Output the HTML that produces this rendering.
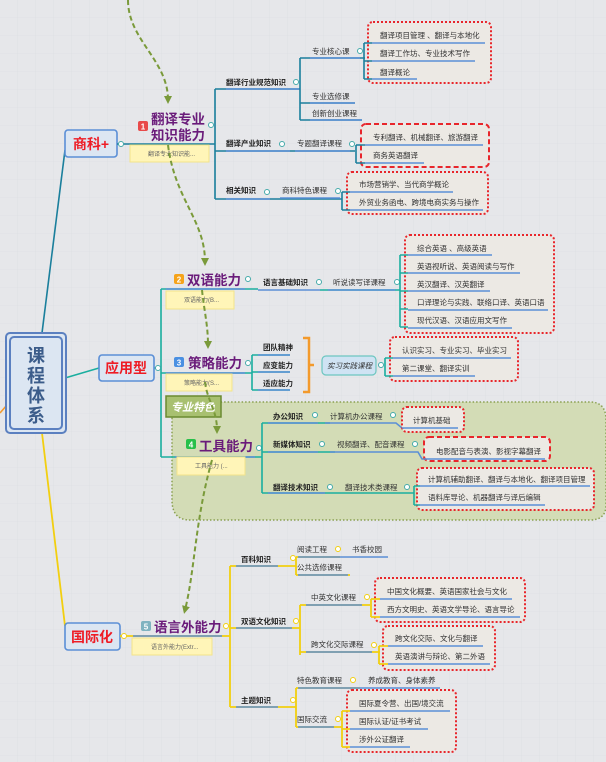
<!DOCTYPE html>
<html><head><meta charset="utf-8"><style>
html,body{margin:0;padding:0;background:#e6e7ea;}
svg{display:block}
text{font-family:"Liberation Sans","Noto Sans CJK SC",sans-serif;}
.l{font-size:7.5px;fill:#333}
.b{font-size:7.5px;fill:#222;font-weight:bold}
.t{font-size:13.5px;fill:#6a1b7a;font-weight:bold}
.n{font-size:6px;fill:#666}
.u{stroke:#5b8fd6;stroke-width:1.6;fill:none}
.c1{stroke:#1a7f9c;stroke-width:1.6;fill:none}
.c2{stroke:#1aae9f;stroke-width:1.6;fill:none}
.c3{stroke:#f2cf10;stroke-width:1.8;fill:none}
.rd{fill:#ece9e4;stroke:#e8262b;stroke-width:2;stroke-dasharray:2 2}
.rdd{fill:#ece9e4;stroke:#e8262b;stroke-width:2;stroke-dasharray:5 3}
.note{fill:#fff5b8;stroke:#f3e48a;stroke-width:1}
.ar{stroke:#7a9a3a;stroke-width:2;fill:none;stroke-dasharray:5 3}
.cc{fill:#fff;stroke:#4aa;stroke-width:1}
</style></head><body>
<svg width="606" height="762" viewBox="0 0 606 762" xmlns="http://www.w3.org/2000/svg">
<defs>
<pattern id="g" width="18" height="18" patternUnits="userSpaceOnUse"><path d="M18 0V18H0" fill="none" stroke="#dadcdf" stroke-width="0.6"/></pattern>
<marker id="ah" markerWidth="8" markerHeight="8" refX="4" refY="4" orient="auto" markerUnits="userSpaceOnUse"><path d="M0,0 L8,4 L0,8z" fill="#7a9a3a"/></marker>
</defs>
<rect width="606" height="762" fill="#e6e7ea"/>
<rect width="606" height="762" fill="url(#g)"/>

<path d="M190,402 Q200,396 215,402 L590,402 Q606,402 606,420 L606,505 Q606,520 590,520 L190,520 Q172,520 172,500 L172,420 Q172,402 190,402z" fill="#d3dcb6" stroke="#8aa050" stroke-width="1.5" stroke-dasharray="1.5 2"/>

<path d="M42,333 L65,150" class="c1"/>
<path d="M65,378 L99,368" class="c2"/>
<path d="M42,433 L65,626" class="c3"/>
<path d="M0,413 L7,405" stroke="#f39a2c" stroke-width="1.6"/>

<rect x="6" y="333" width="60" height="100" rx="4" fill="#dce6f2" stroke="#5b80c0" stroke-width="2"/>
<rect x="10" y="337" width="52" height="92" rx="4" fill="#dce6f2" stroke="#5b80c0" stroke-width="2"/>
<text x="36" y="362" text-anchor="middle" style="font-size:18px;font-weight:bold;fill:#3b5c8a">课</text>
<text x="36" y="382" text-anchor="middle" style="font-size:18px;font-weight:bold;fill:#3b5c8a">程</text>
<text x="36" y="402" text-anchor="middle" style="font-size:18px;font-weight:bold;fill:#3b5c8a">体</text>
<text x="36" y="422" text-anchor="middle" style="font-size:18px;font-weight:bold;fill:#3b5c8a">系</text>

<rect x="65" y="130" width="52" height="27" rx="3" fill="#dce6f2" stroke="#5b8fd6" stroke-width="1.6"/>
<text x="91" y="149" text-anchor="middle" style="font-size:14px;font-weight:bold;fill:#ee1c25">商科+</text>
<path d="M117,144 L215,144" class="c1"/>
<path d="M215,89 L215,199 M215,89 L300,89 M215,151 L355,151 M215,199 L342,199" class="c1"/>
<circle cx="121" cy="144" r="2.5" class="cc"/><circle cx="211" cy="125" r="2.5" class="cc"/>
<rect x="138" y="121" width="10" height="10" rx="2" fill="#e84a4a"/><text x="143" y="129.5" text-anchor="middle" style="font-size:8px;fill:#fff;font-weight:bold">1</text>
<text x="151" y="124" class="t">翻译专业</text><text x="151" y="140" class="t">知识能力</text>
<rect x="130" y="145" width="79" height="17" class="note"/><text x="148" y="156" class="n">翻译专业知识能...</text>
<path d="M226,89 L300,89 M226,151 L290,151 M226,199 L270,199" class="u"/>
<text x="226" y="85" class="b">翻译行业规范知识</text>
<text x="226" y="146" class="b">翻译产业知识</text>
<text x="226" y="193" class="b">相关知识</text>
<circle cx="296" cy="82" r="2.5" class="cc"/><circle cx="282" cy="144" r="2.5" class="cc"/><circle cx="267" cy="192" r="2.5" class="cc"/>
<path d="M300,58 L300,120 M300,58 L365,58 M300,103 L355,103 M300,120 L362,120" class="c1"/>
<path d="M310,58 L360,58 M310,103 L355,103 M310,120 L362,120" class="u"/>
<text x="312" y="54" class="l">专业核心课</text><text x="312" y="99" class="l">专业选修课</text><text x="312" y="116" class="l">创新创业课程</text>
<circle cx="360" cy="51" r="2.5" class="cc"/>
<rect x="368" y="22" width="123" height="61" rx="5" class="rd"/>
<path d="M364,43 L364,79 M364,43 L372,43 M364,61 L372,61 M364,79 L372,79" class="c1"/>
<path d="M372,43 L485,43 M372,61 L475,61 M372,79 L417,79" class="u"/>
<text x="380" y="38" class="l">翻译项目管理 、翻译与本地化</text>
<text x="380" y="56" class="l">翻译工作坊、专业技术写作</text>
<text x="380" y="75" class="l">翻译概论</text>
<text x="297" y="146" class="l">专题翻译课程</text><path d="M295,151 L350,151" class="u"/>
<circle cx="352" cy="144" r="2.5" class="cc"/>
<rect x="361" y="124" width="128" height="43" rx="5" class="rdd"/>
<path d="M356,145 L356,163 M356,145 L365,145 M356,163 L365,163" class="c1"/>
<path d="M365,145 L483,145 M365,163 L424,163" class="u"/>
<text x="373" y="140" class="l">专利翻译、机械翻译、旅游翻译</text>
<text x="373" y="158" class="l">商务英语翻译</text>
<text x="282" y="193" class="l">商科特色课程</text><path d="M280,198 L340,198" class="u"/>
<circle cx="338" cy="191" r="2.5" class="cc"/>
<rect x="347" y="172" width="141" height="42" rx="5" class="rd"/>
<path d="M342,192 L342,210 M342,192 L350,192 M342,210 L350,210" class="c1"/>
<path d="M350,192 L453,192 M350,210 L483,210" class="u"/>
<text x="359" y="187" class="l">市场营销学、当代商学概论</text>
<text x="359" y="205" class="l">外贸业务函电、跨境电商实务与操作</text>

<path d="M154,368 L161,368 M161,289 L161,457 M161,289 L258,289 M161,373 L252,373 M161,457 L262,457" class="c2"/>
<rect x="99" y="355" width="55" height="26" rx="3" fill="#dce6f2" stroke="#5b8fd6" stroke-width="1.6"/>
<text x="126" y="373" text-anchor="middle" style="font-size:14px;font-weight:bold;fill:#ee1c25">应用型</text>
<circle cx="158" cy="368" r="2.5" class="cc"/>
<path d="M166,289 L245,289 M166,373 L245,373 M175,457 L255,457" class="u"/>
<rect x="174" y="274" width="10" height="10" rx="2" fill="#f5a31a"/><text x="179" y="282.5" text-anchor="middle" style="font-size:8px;fill:#fff;font-weight:bold">2</text>
<text x="187" y="285" class="t">双语能力</text>
<rect x="166" y="291" width="68" height="18" class="note"/><text x="184" y="302" class="n">双语能力(B...</text>
<circle cx="248" cy="279" r="2.5" class="cc"/>
<text x="263" y="285" class="b">语言基础知识</text><path d="M258,290 L320,290" class="u"/>
<circle cx="319" cy="282" r="2.5" class="cc"/>
<text x="333" y="285" class="l">听说读写译课程</text><path d="M320,290 L400,290" class="c2"/><path d="M328,290 L395,290" class="u"/>
<circle cx="397" cy="282" r="2.5" class="cc"/>
<rect x="405" y="235" width="149" height="98" rx="5" class="rd"/>
<path d="M400,255 L400,327 M400,255 L408,255 M400,273 L408,273 M400,291 L408,291 M400,309 L408,309 M400,327 L408,327" class="c2"/>
<path d="M408,255 L492,255 M408,273 L520,273 M408,291 L490,291 M408,310 L548,310 M408,328 L512,328" class="u"/>
<text x="417" y="251" class="l">综合英语 、高级英语</text>
<text x="417" y="269" class="l">英语视听说、英语阅读与写作</text>
<text x="417" y="287" class="l">英汉翻译、汉英翻译</text>
<text x="417" y="305" class="l">口译理论与实践、联络口译、英语口语</text>
<text x="417" y="323" class="l">现代汉语、汉语应用文写作</text>

<rect x="174" y="357" width="10" height="10" rx="2" fill="#4a90e2"/><text x="179" y="365.5" text-anchor="middle" style="font-size:8px;fill:#fff;font-weight:bold">3</text>
<text x="188" y="368" class="t">策略能力</text>
<rect x="166" y="374" width="66" height="17" class="note"/><text x="184" y="385" class="n">策略能力(S...</text>
<circle cx="248" cy="363" r="2.5" class="cc"/>
<path d="M252,355 L252,390 M252,355 L290,355 M252,372 L290,372 M252,390 L290,390" class="c2"/>
<path d="M258,355 L290,355 M258,372 L290,372 M258,390 L290,390" class="u"/>
<text x="263" y="350" class="b">团队精神</text><text x="263" y="368" class="b">应变能力</text><text x="263" y="386" class="b">适应能力</text>
<path d="M303,338 L309,338 L309,365 L314,365 L309,365 L309,392 L303,392" stroke="#f39a2c" stroke-width="2.5" fill="none"/>
<rect x="322" y="356" width="54" height="19" rx="4" fill="#cfe3f3" stroke="#6cc6c0" stroke-width="1.2"/>
<text x="327" y="368.5" style="font-size:7.5px;font-style:italic;fill:#333">实习实践课程</text>
<circle cx="381" cy="365" r="2.5" class="cc"/>
<rect x="390" y="337" width="128" height="44" rx="5" class="rd"/>
<path d="M385,358 L385,376 M385,358 L393,358 M385,376 L393,376" class="c2"/>
<path d="M393,358 L511,358 M393,376 L475,376" class="u"/>
<text x="402" y="353" class="l">认识实习、专业实习、毕业实习</text>
<text x="402" y="371" class="l">第二课堂、翻译实训</text>

<rect x="166" y="396" width="55" height="21" fill="#a8c070" stroke="#6a8a30" stroke-width="1.5"/>
<text x="193" y="411" text-anchor="middle" style="font-size:11px;font-weight:bold;font-style:italic;fill:#fff">专业特色</text>

<rect x="186" y="439" width="10" height="10" rx="2" fill="#27c04a"/><text x="191" y="447.5" text-anchor="middle" style="font-size:8px;fill:#fff;font-weight:bold">4</text>
<text x="199" y="451" class="t">工具能力</text>
<rect x="177" y="457" width="68" height="18" class="note"/><text x="195" y="468" class="n">工具能力 (...</text>
<circle cx="259" cy="448" r="2.5" class="cc"/>
<path d="M262,423 L262,493 M262,423 L330,423 M262,452 L335,452 M262,493 L414,493" class="c2"/>
<path d="M268,423 L318,423 M268,452 L318,452 M268,493 L325,493" class="u"/>
<text x="273" y="419" class="b">办公知识</text><text x="273" y="447" class="b">新媒体知识</text><text x="273" y="490" class="b">翻译技术知识</text>
<circle cx="315" cy="415" r="2.5" class="cc"/><circle cx="322" cy="444" r="2.5" class="cc"/><circle cx="330" cy="487" r="2.5" class="cc"/>
<text x="330" y="419" class="l">计算机办公课程</text>
<path d="M325,423 L396,423 L402,428 L460,428" class="u"/>
<circle cx="393" cy="415" r="2.5" class="cc"/>
<rect x="402" y="407" width="62" height="25" rx="5" class="rd"/>
<text x="413" y="423" class="l">计算机基础</text><path d="M402,428 L458,428" class="u"/>
<text x="337" y="447" class="l">视频翻译、配音课程</text>
<path d="M330,452 L418,452 L422,459 L545,459" class="u"/>
<circle cx="415" cy="444" r="2.5" class="cc"/>
<rect x="424" y="437" width="126" height="24" rx="5" class="rdd"/>
<text x="436" y="454" class="l">电影配音与表演、影视字幕翻译</text>
<path d="M424,459 L545,459" class="u"/>
<text x="345" y="490" class="l">翻译技术类课程</text>
<circle cx="407" cy="487" r="2.5" class="cc"/>
<rect x="417" y="468" width="177" height="42" rx="5" class="rd"/>
<path d="M414,486 L414,505 M414,486 L420,486 M414,505 L420,505" class="c2"/>
<path d="M420,486 L590,486 M420,505 L545,505" class="u"/>
<text x="428" y="482" class="l">计算机辅助翻译、翻译与本地化、翻译项目管理</text>
<text x="428" y="500" class="l">语料库导论、机器翻译与译后编辑</text>

<rect x="65" y="623" width="55" height="27" rx="3" fill="#dce6f2" stroke="#5b8fd6" stroke-width="1.6"/>
<text x="92" y="642" text-anchor="middle" style="font-size:14px;font-weight:bold;fill:#ee1c25">国际化</text>
<path d="M120,636 L230,636 M230,566 L230,707 M230,566 L296,566 M230,628 L300,628 M230,707 L296,707" class="c3"/>
<path d="M133,636 L222,636 M236,566 L278,566 M236,628 L292,628 M236,707 L278,707" class="u"/>
<circle cx="124" cy="636" r="2.5" fill="#fff" stroke="#f2cf10"/><circle cx="226" cy="626" r="2.5" fill="#fff" stroke="#f2cf10"/>
<rect x="141" y="621" width="10" height="10" rx="2" fill="#7fb3c0"/><text x="146" y="629.5" text-anchor="middle" style="font-size:8px;fill:#fff;font-weight:bold">5</text>
<text x="154" y="632" class="t">语言外能力</text>
<rect x="132" y="638" width="80" height="17" class="note"/><text x="151" y="649" class="n">语言外能力(Extr...</text>
<text x="241" y="562" class="b">百科知识</text><text x="241" y="624" class="b">双语文化知识</text><text x="241" y="703" class="b">主题知识</text>
<path d="M296,557 L296,575 M296,557 L340,557 M296,575 L350,575 M300,605 L300,655 M300,605 L370,605 M300,652 L380,652 M296,688 L296,727 M296,688 L360,688 M296,727 L342,727" class="c3"/>
<path d="M298,557 L388,557 M298,575 L348,575 M306,605 L362,605 M306,652 L372,652 M298,688 L440,688 M298,727 L334,727" class="u"/>
<circle cx="338" cy="549" r="2.5" fill="#fff" stroke="#f2cf10"/><circle cx="367" cy="597" r="2.5" fill="#fff" stroke="#f2cf10"/><circle cx="374" cy="645" r="2.5" fill="#fff" stroke="#f2cf10"/><circle cx="353" cy="680" r="2.5" fill="#fff" stroke="#f2cf10"/><circle cx="338" cy="719" r="2.5" fill="#fff" stroke="#f2cf10"/><circle cx="296" cy="621" r="2.5" fill="#fff" stroke="#f2cf10"/><circle cx="293" cy="558" r="2.5" fill="#fff" stroke="#f2cf10"/><circle cx="293" cy="700" r="2.5" fill="#fff" stroke="#f2cf10"/>
<text x="297" y="552" class="l">阅读工程</text><text x="352" y="552" class="l">书香校园</text>
<text x="297" y="570" class="l">公共选修课程</text>
<text x="311" y="600" class="l">中英文化课程</text><text x="311" y="647" class="l">跨文化交际课程</text>
<text x="297" y="683" class="l">特色教育课程</text><text x="368" y="683" class="l">养成教育、身体素养</text>
<text x="297" y="722" class="l">国际交流</text>
<rect x="375" y="578" width="150" height="44" rx="5" class="rd"/>
<path d="M371,599 L371,617 M371,599 L380,599 M371,617 L380,617" class="c3"/>
<path d="M380,599 L512,599 M380,617 L520,617" class="u"/>
<text x="387" y="594" class="l">中国文化概要、英语国家社会与文化</text>
<text x="387" y="612" class="l">西方文明史、英语文学导论、语言导论</text>
<rect x="383" y="626" width="112" height="44" rx="5" class="rd"/>
<path d="M379,646 L379,664 M379,646 L388,646 M379,664 L388,664" class="c3"/>
<path d="M388,646 L483,646 M388,664 L490,664" class="u"/>
<text x="395" y="641" class="l">跨文化交际、文化与翻译</text>
<text x="395" y="659" class="l">英语演讲与辩论、第二外语</text>
<rect x="347" y="690" width="109" height="62" rx="5" class="rd"/>
<path d="M342,711 L342,747 M342,711 L350,711 M342,729 L350,729 M342,747 L350,747" class="c3"/>
<path d="M350,711 L450,711 M350,729 L428,729 M350,747 L410,747" class="u"/>
<text x="359" y="706" class="l">国际夏令营、出国/境交流</text>
<text x="359" y="724" class="l">国际认证/证书考试</text>
<text x="359" y="742" class="l">涉外公证翻译</text>

<path d="M128,0 C128,40 168,60 168,100" class="ar" marker-end="url(#ah)"/>
<path d="M168,145 C175,200 205,220 205,262" class="ar" marker-end="url(#ah)"/>
<path d="M202,290 C204,310 208,325 208,345" class="ar" marker-end="url(#ah)"/>
<path d="M205,382 C207,400 217,410 217,430" class="ar" marker-end="url(#ah)"/>
<path d="M212,460 C195,520 195,570 185,610" class="ar" marker-end="url(#ah)"/>
</svg>
</body></html>
